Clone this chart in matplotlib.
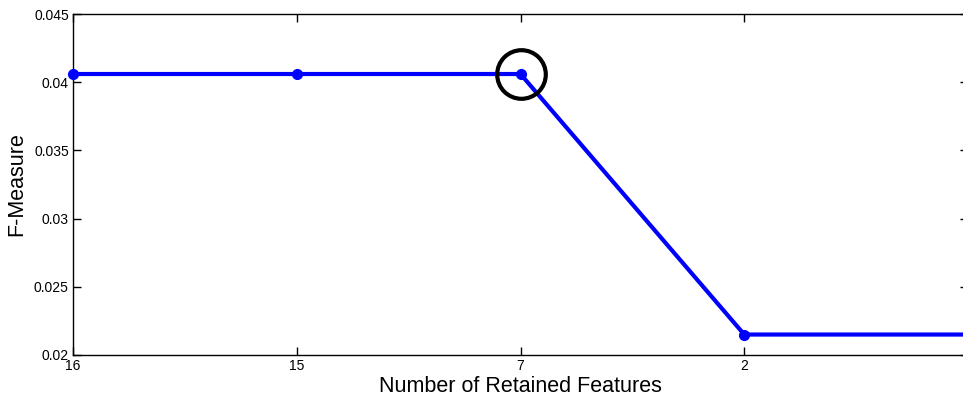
import matplotlib
matplotlib.use("Agg")
import matplotlib.pyplot as plt

plt.rcParams['font.family'] = ['Liberation Sans', 'DejaVu Sans']

# Feature-elimination steps and their F-Measure
positions = [1, 2, 3, 4, 5]
retained_features = ["16", "15", "7", "2", ""]
f_measure = [0.0406, 0.0406, 0.0406, 0.0215, 0.0215]
best_index = 2

fig = plt.figure(figsize=(9.63, 4.0), dpi=100)
W, H = 963, 400
ax = fig.add_axes([73 / W, 45 / H, (968 - 73) / W, (355 - 14) / H])

ax.plot(positions, f_measure, color="#0000ff", linewidth=3, marker="o",
        markersize=7, clip_on=False, zorder=3)
ax.plot(positions[best_index], f_measure[best_index], marker="o",
        markersize=35, markerfacecolor="none", markeredgecolor="black",
        markeredgewidth=3, zorder=4)

ax.set_xlim(1, 5)
ax.set_ylim(0.02, 0.045)
ax.set_xticks(positions)
ax.set_xticklabels(retained_features)
ax.set_yticks([0.02, 0.025, 0.03, 0.035, 0.04, 0.045])
ax.set_yticklabels(["0.02", "0.025", "0.03", "0.035", "0.04", "0.045"])
ax.tick_params(direction="in", length=6, width=1, top=True, right=True,
               labelsize=10, pad=3)
for s in ax.spines.values():
    s.set_linewidth(1)

ax.set_xlabel("Number of Retained Features", fontsize=15.5, labelpad=2)
ax.set_ylabel("F-Measure", fontsize=15.5, labelpad=5)

fig.savefig("out.png", dpi=100)
